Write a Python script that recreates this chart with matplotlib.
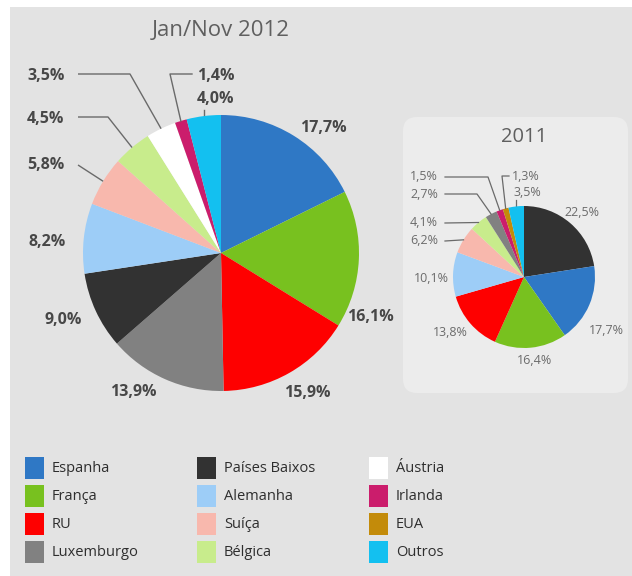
import matplotlib
matplotlib.use("Agg")
import matplotlib.pyplot as plt
from matplotlib.patches import Rectangle, FancyBboxPatch
import numpy as np

plt.rcParams["font.family"] = ["Open Sans", "DejaVu Sans"]

# ---- data -------------------------------------------------------------
countries = ["Espanha", "França", "RU", "Luxemburgo",
             "Países Baixos", "Alemanha", "Suíça", "Bélgica",
             "Áustria", "Irlanda", "EUA", "Outros"]
colors = {
    "Espanha": "#2f78c5", "França": "#78c11f", "RU": "#fe0000",
    "Luxemburgo": "#818181", "Países Baixos": "#323232",
    "Alemanha": "#9dcdf7", "Suíça": "#f8b8ad", "Bélgica": "#c8ec8c",
    "Áustria": "#ffffff", "Irlanda": "#cb1d6c", "EUA": "#c38b0a",
    "Outros": "#13c0f0",
}

order_2012 = ["Espanha", "França", "RU", "Luxemburgo", "Países Baixos",
              "Alemanha", "Suíça", "Bélgica", "Áustria", "Irlanda", "Outros"]
share_2012 = [17.7, 16.1, 15.9, 13.9, 9.0, 8.2, 5.8, 4.5, 3.5, 1.4, 4.0]

order_2011 = ["Países Baixos", "Espanha", "França", "RU", "Alemanha",
              "Suíça", "Bélgica", "Luxemburgo", "Irlanda", "EUA", "Outros"]
share_2011 = [22.5, 17.7, 16.4, 13.8, 10.1, 6.2, 4.1, 2.7, 1.5, 1.3, 3.5]

W, H = 632, 576


def fmt(v):
    return f"{v:.1f}".replace(".", ",") + "%"


def P(x, y):
    """pixel position (from top-left) -> data coords"""
    return x, H - y


fig = plt.figure(figsize=(W / 100, H / 100), dpi=100, facecolor="white")
ax = fig.add_axes([0, 0, 1, 1])
ax.set_xlim(0, W)
ax.set_ylim(0, H)
ax.set_aspect("equal")
ax.axis("off")

# panel background
ax.add_patch(Rectangle(P(10, H), W - 10, H - 7, facecolor="#e3e3e3",
                       edgecolor="none", zorder=0))
# inset box for 2011
bx0, by0, bx1, by1 = 403, 117, 628, 393
ax.add_patch(FancyBboxPatch(P(bx0, by1), bx1 - bx0, by1 - by0,
                            boxstyle="round,pad=0,rounding_size=14",
                            facecolor="#ececec", edgecolor="none", zorder=1))


def draw_pie(values, names, cx, cy, r):
    ax.pie(values, colors=[colors[n] for n in names], startangle=90,
           counterclock=False, center=P(cx, cy), radius=r,
           wedgeprops=dict(linewidth=0, zorder=3), frame=False)
    total = float(sum(values))
    cum = np.cumsum([0] + list(values))
    anchors = {}
    for i, n in enumerate(names):
        mid = (cum[i] + values[i] / 2) / total * 360.0
        ang = np.deg2rad(90 - mid)
        anchors[n] = (cx + r * np.cos(ang), cy - r * np.sin(ang))
    return anchors


# ---- Jan/Nov 2012 -------------------------------------------------------
c12 = (221, 253)
anc12 = draw_pie(share_2012, order_2012, c12[0], c12[1], 138)
ax.set_xlim(0, W)
ax.set_ylim(0, H)
ax.text(*P(221, 31), "Jan/Nov 2012", ha="center", va="center",
        fontsize=16, color="#5f5f5f", zorder=5)

lab12 = dict(fontsize=11.5, fontweight="bold", color="#474747", zorder=5)
lbl_main = {"Espanha": (323, 128), "França": (370, 317), "RU": (307, 393),
            "Luxemburgo": (133, 392), "Países Baixos": (63, 320),
            "Alemanha": (47, 242)}
vals12 = dict(zip(order_2012, share_2012))
for n, (x, y) in lbl_main.items():
    ax.text(*P(x, y), fmt(vals12[n]), ha="center", va="center", **lab12)

# small slices: label, leader line (label end -> elbow -> slice edge)
small12 = {
    "Áustria": ((27, 76), [(78, 74), (130, 74)]),
    "Bélgica": ((27, 119), [(78, 117), (108, 117)]),
    "Suíça": ((27, 165), [(78, 165)]),
}
for n, ((x, y), pts) in small12.items():
    ax.text(*P(x, y), fmt(vals12[n]), ha="left", va="center", **lab12)
    path = pts + [anc12[n]]
    ax.plot([p[0] for p in path], [H - p[1] for p in path],
            color="#6a6a6a", lw=1, zorder=4, solid_capstyle="butt")

ax.text(*P(197, 76), fmt(vals12["Irlanda"]), ha="left", va="center", **lab12)
path = [(192, 74), (170, 74), anc12["Irlanda"]]
ax.plot([p[0] for p in path], [H - p[1] for p in path],
        color="#6a6a6a", lw=1, zorder=4)
ax.text(*P(197, 99), fmt(vals12["Outros"]), ha="left", va="center", **lab12)
ax_o = anc12["Outros"]
ax.plot([ax_o[0], ax_o[0]], [H - 110, H - ax_o[1]], color="#6a6a6a",
        lw=1, zorder=2)

# ---- 2011 ---------------------------------------------------------------
c11 = (524, 277)
anc11 = draw_pie(share_2011, order_2011, c11[0], c11[1], 71)
ax.set_xlim(0, W)
ax.set_ylim(0, H)
ax.text(*P(524, 137), "2011", ha="center", va="center",
        fontsize=14.5, color="#5f5f5f", zorder=5)

lab11 = dict(fontsize=9, color="#6b6b6b", zorder=5)
vals11 = dict(zip(order_2011, share_2011))
lbl_small = {"Países Baixos": (582, 212), "Espanha": (606, 331),
             "França": (535, 361), "RU": (450, 333), "Alemanha": (431, 278)}
for n, (x, y) in lbl_small.items():
    ax.text(*P(x, y), fmt(vals11[n]), ha="center", va="center", **lab11)

small11 = {
    "Irlanda": ((410, 177), [(445, 177), (488, 177)]),
    "Luxemburgo": ((410, 194), [(445, 194), (477, 194)]),
    "Bélgica": ((410, 223), [(445, 223)]),
    "Suíça": ((410, 241), [(445, 241)]),
}
for n, ((x, y), pts) in small11.items():
    ax.text(*P(x, y), fmt(vals11[n]), ha="left", va="center", **lab11)
    path = pts + [anc11[n]]
    ax.plot([p[0] for p in path], [H - p[1] for p in path],
            color="#6a6a6a", lw=0.9, zorder=4)

ax.text(*P(512, 177), fmt(vals11["EUA"]), ha="left", va="center", **lab11)
path = [(509, 176), (502, 176), anc11["EUA"]]
ax.plot([p[0] for p in path], [H - p[1] for p in path],
        color="#6a6a6a", lw=0.9, zorder=4)
ax.text(*P(513, 193), fmt(vals11["Outros"]), ha="left", va="center", **lab11)
a_o = anc11["Outros"]
ax.plot([a_o[0], a_o[0]], [H - 200, H - a_o[1]], color="#6a6a6a",
        lw=0.9, zorder=2)

# ---- legend -------------------------------------------------------------
col_x = [25, 197, 369]
row_y = [468, 496, 524, 552]
for i, n in enumerate(countries):
    c, r = divmod(i, 4)
    x, y = col_x[c], row_y[r]
    ax.add_patch(Rectangle(P(x, y + 11), 19, 22, facecolor=colors[n],
                           edgecolor="none", zorder=3))
    ax.text(*P(x + 27, y), n, ha="left", va="center", fontsize=10.5,
            color="#2e2e2e", zorder=5)

fig.savefig("out.png", dpi=100, facecolor="white")
